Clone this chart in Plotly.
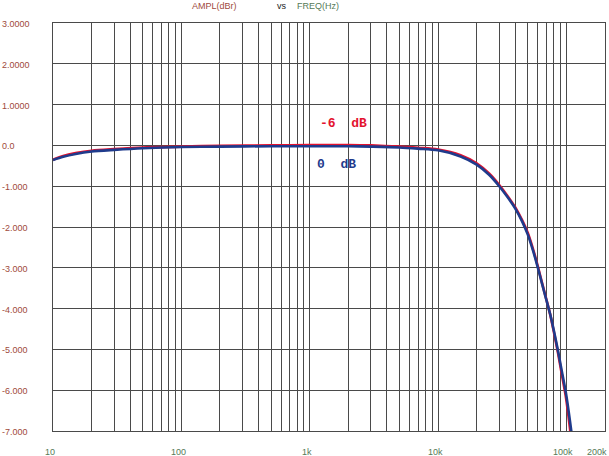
import numpy as np
import plotly.graph_objects as go

# ---- data ----
freq_hz = [10, 12, 15, 20, 30, 50, 100, 200, 500, 1000, 2000, 3000, 5000, 7000,
           10000, 15000, 20000, 25000, 30000, 35000, 40000, 45000, 50000, 55000,
           60000, 65000, 70000, 75000, 80000, 86000, 92000, 98600, 104000, 109200,
           112000]
ampl_0db = [-0.36, -0.28, -0.21, -0.15, -0.11, -0.07, -0.04, -0.03, -0.02, -0.02,
            -0.02, -0.03, -0.05, -0.08, -0.12, -0.27, -0.47, -0.72, -1.00, -1.28,
            -1.55, -1.85, -2.18, -2.58, -3.00, -3.42, -3.80, -4.15, -4.55, -5.03,
            -5.52, -6.02, -6.50, -7.00, -7.30]
ampl_m6db = [-0.35, -0.26, -0.19, -0.13, -0.09, -0.05, -0.03, -0.01, 0.00, 0.01,
             0.01, 0.00, -0.03, -0.06, -0.10, -0.24, -0.44, -0.69, -0.97, -1.25,
             -1.52, -1.82, -2.14, -2.54, -2.97, -3.40, -3.79, -4.16, -4.58, -5.08,
             -5.60, -6.12, -6.65, -7.22, -7.55]

y_tick_vals = [3, 2, 1, 0, -1, -2, -3, -4, -5, -6, -7]
y_tick_text = ["3.0000", "2.0000", "1.0000", "0.0", "-1.000", "-2.000", "-3.000",
               "-4.000", "-5.000", "-6.000", "-7.000"]
x_label_vals = [10, 100, 1000, 10000, 100000, 200000]
x_label_text = ["10", "100", "1k", "10k", "100k", "200k"]
series_names = ["-6  dB", "0  dB"]

RED = "#e3122f"
BLUE = "#1f3b8c"
YLAB = "#a04a3c"
XLAB = "#557a57"
GRID = "#4a4a4a"
FONT = "Liberation Sans"

# grid positions: 1..9 per decade
x_grid = [m * 10 ** d for d in range(1, 6) for m in range(1, 10)] + [200000]

fig = go.Figure()
fig.add_trace(go.Scatter(x=freq_hz, y=ampl_m6db, mode="lines", name=series_names[0],
                         line=dict(color=RED, width=2.6, shape="spline", smoothing=0.8)))
fig.add_trace(go.Scatter(x=freq_hz, y=ampl_0db, mode="lines", name=series_names[1],
                         line=dict(color=BLUE, width=2.6, shape="spline", smoothing=0.8)))

fig.update_xaxes(type="log", range=[np.log10(10), np.log10(200000)],
                 tickvals=x_grid, showticklabels=False, ticks="",
                 showgrid=True, gridcolor=GRID, gridwidth=1,
                 showline=True, linecolor=GRID, linewidth=1, mirror=True,
                 zeroline=False)
fig.update_yaxes(range=[-7, 3], tickvals=y_tick_vals, showticklabels=False, ticks="",
                 showgrid=True, gridcolor=GRID, gridwidth=1,
                 showline=True, linecolor=GRID, linewidth=1, mirror=True,
                 zeroline=False)

ann = []
for v, t in zip(y_tick_vals, y_tick_text):
    ann.append(dict(x=0, xref="paper", y=v, yref="y", text=t, showarrow=False,
                    xanchor="left", yanchor="middle", xshift=-53, yshift=-1,
                    font=dict(family=FONT, size=9, color=YLAB)))
for v, t in zip(x_label_vals, x_label_text):
    last = (v == x_label_vals[-1])
    ann.append(dict(x=np.log10(v), xref="x", y=0, yref="paper", text=t, showarrow=False,
                    xanchor="right" if last else "center", yanchor="top",
                    xshift=4 if last else -3, yshift=-14,
                    font=dict(family=FONT, size=9, color=XLAB)))

# title
title_parts = [("AMPL(dBr)", 214, YLAB), ("vs", 282, "#222222"), ("FREQ(Hz)", 318, XLAB)]
for text, px, col in title_parts:
    ann.append(dict(x=(px - 53) / 552, y=1, xref="paper", yref="paper", text=text,
                    yanchor="middle", xanchor="center", yshift=(23 - 6), showarrow=False,
                    font=dict(family=FONT, size=9, color=col)))

# curve labels
ann.append(dict(x=np.log10(1849), y=0.53, xref="x", yref="y",
                text="<b>" + series_names[0].replace(" ", "&nbsp;") + "</b>",
                showarrow=False, font=dict(family="Liberation Mono", size=13, color=RED)))
ann.append(dict(x=np.log10(1627), y=-0.48, xref="x", yref="y",
                text="<b>" + series_names[1].replace(" ", "&nbsp;") + "</b>",
                showarrow=False, font=dict(family="Liberation Mono", size=13, color=BLUE)))

fig.update_layout(width=609, height=456, margin=dict(l=53, r=4, t=23, b=25),
                  paper_bgcolor="white", plot_bgcolor="white", showlegend=False,
                  annotations=ann)

fig.write_html("out.html", config={"displayModeBar": False},
               post_script="document.body.style.margin='0';")
